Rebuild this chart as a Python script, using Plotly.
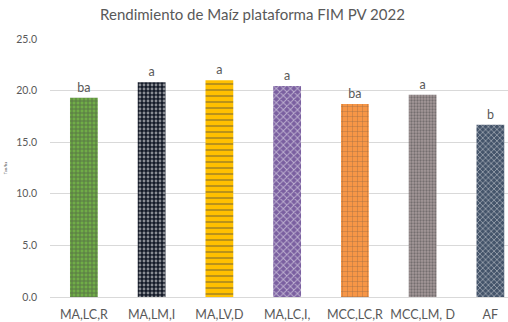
import plotly.graph_objects as go

# Yield per treatment (Ton/ha) and significance groups
tratamientos = ["MA,LC,R", "MA,LM,I", "MA,LV,D", "MA,LC,I,", "MCC,LC,R", "MCC,LM, D", "AF"]
rendimiento = [19.3, 20.8, 21.0, 20.45, 18.7, 19.6, 16.7]
grupos = ["ba", "a", "a", "a", "ba", "a", "b"]
y_ticks = [0, 5, 10, 15, 20, 25]
y_tick_labels = ["0.0", "5.0", "10.0", "15.0", "20.0", "25.0"]

# Per-bar fill patterns
bg_colors = ["#70ad47", "#141a28", "#ffc000", "#7a5fa0", "#f79646", "#a5999a", "#44546a"]
fg_colors = ["#3f6a22", "#4f74a3", "#5a4a1a", "#b6a3cf", "#1e1e1e", "#e8e2e2", "#2a3440"]
shapes = ["+", ".", "-", "x", "+", ".", "x"]
sizes = [4, 4, 6, 5, 5, 3, 4]
solidity = [0.45, 0.4, 0.25, 0.35, 0.15, 0.45, 0.35]

grey = "#595959"
font_family = "Lato, Liberation Sans, sans-serif"

fig = go.Figure()
fig.add_trace(go.Bar(
    x=tratamientos,
    y=rendimiento,
    text=grupos,
    textposition="outside",
    textfont=dict(size=12.5, color=grey, family=font_family),
    cliponaxis=False,
    width=0.41,
    marker=dict(
        color=bg_colors,
        line=dict(width=0),
        pattern=dict(
            shape=shapes,
            fgcolor=fg_colors,
            bgcolor=bg_colors,
            size=sizes,
            solidity=solidity,
            fillmode="overlay",
        ),
    ),
    showlegend=False,
))

fig.update_layout(
    width=508,
    height=322,
    margin=dict(l=50, r=0, t=39, b=25),
    paper_bgcolor="white",
    plot_bgcolor="white",
    font=dict(family=font_family, color=grey),
    title=dict(
        text="Rendimiento de Maíz plataforma FIM PV 2022",
        x=0.497, xanchor="center",
        y=0.955, yanchor="middle",
        font=dict(size=15, color=grey, family=font_family),
    ),
    bargap=0.59,
)

fig.update_yaxes(
    range=[0, 25],
    tickvals=y_ticks,
    ticktext=y_tick_labels,
    tickfont=dict(size=10.5, color=grey),
    showgrid=True,
    gridcolor="#d9d9d9",
    gridwidth=1,
    zeroline=False,
    showline=False,
    ticks="",
    ticklabelstandoff=12,
    title=dict(text="Ton/ha", font=dict(size=4, color=grey), standoff=8),
)

fig.update_xaxes(
    range=[-0.5, 6.26],
    tickfont=dict(size=12.5, color=grey),
    showline=True,
    linecolor="#d9d9d9",
    linewidth=1,
    ticks="",
    ticklabelstandoff=6,
    showgrid=False,
)

fig.write_html("out.html")
